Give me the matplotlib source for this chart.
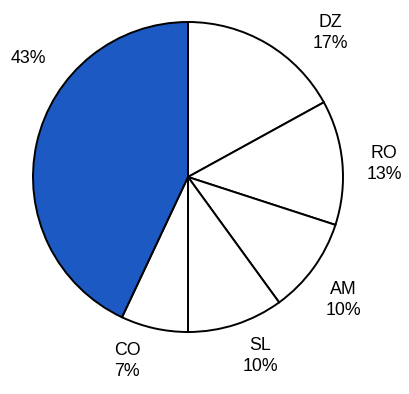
import matplotlib.pyplot as plt

# shares, clockwise from 12 o'clock
labels = ["DZ", "RO", "AM", "SL", "CO", ""]
shares = [17, 13, 10, 10, 7, 43]
colors = ["white", "white", "white", "white", "white", "#1c59c2"]

plt.rcParams['font.family'] = ['Liberation Sans', 'DejaVu Sans']

fig = plt.figure(figsize=(4.10, 3.94), dpi=100)
ax = fig.add_axes([0, 0, 1, 1])

cx, cy, r = 188, 394 - 177, 155
ax.pie(shares, colors=colors, startangle=90, counterclock=False,
       center=(cx, cy), radius=r, frame=True,
       wedgeprops=dict(edgecolor="black", linewidth=1.4))
ax.set_xlim(0, 410)
ax.set_ylim(0, 394)
ax.set_aspect('equal')
ax.axis('off')

# label spots (pixel coords of text centre)
spots = [(330, 33), (384, 164), (343, 300), (260, 356), (127, 361), (28, 58)]
for lab, val, (px, py) in zip(labels, shares, spots):
    txt = f"{lab}\n{val}%" if lab else f"{val}%"
    ax.text(px, 394 - py, txt, ha="center", va="center", fontsize=12.8,
            linespacing=1.3, color="black")

fig.savefig("out.png", dpi=100)
